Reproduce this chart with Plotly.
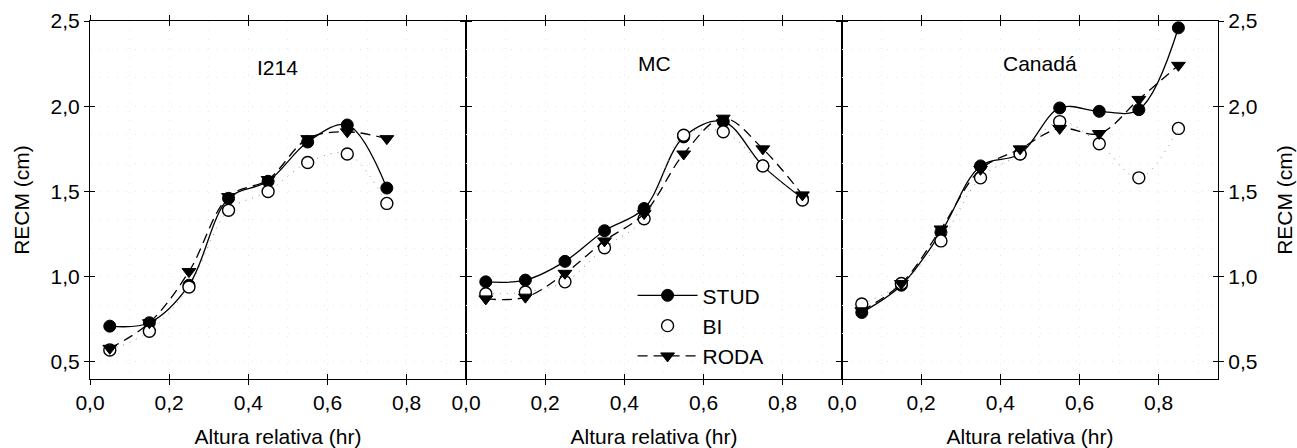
import plotly.graph_objects as go

# ---------------- data ----------------
x_i214 = [0.05, 0.15, 0.25, 0.35, 0.45, 0.55, 0.65, 0.75]
stud_i214 = [0.71, 0.73, 0.95, 1.46, 1.56, 1.79, 1.89, 1.52]
bi_i214 = [0.57, 0.68, 0.94, 1.39, 1.50, 1.67, 1.72, 1.43]
roda_i214 = [0.58, 0.73, 1.03, 1.47, 1.57, 1.81, 1.85, 1.81]

x_mc = [0.05, 0.15, 0.25, 0.35, 0.45, 0.55, 0.65, 0.75, 0.85]
stud_mc = [0.97, 0.98, 1.09, 1.27, 1.40, 1.82, 1.91, 1.65, 1.46]
bi_mc = [0.90, 0.91, 0.97, 1.17, 1.34, 1.83, 1.85, 1.65, 1.45]
roda_mc = [0.87, 0.88, 1.02, 1.21, 1.37, 1.72, 1.93, 1.75, 1.48]

x_can = [0.05, 0.15, 0.25, 0.35, 0.45, 0.55, 0.65, 0.75, 0.85]
stud_can = [0.79, 0.95, 1.26, 1.65, 1.72, 1.99, 1.97, 1.98, 2.46]
bi_can = [0.84, 0.96, 1.21, 1.58, 1.72, 1.91, 1.78, 1.58, 1.87]
roda_can = [0.80, 0.96, 1.28, 1.63, 1.75, 1.87, 1.84, 2.04, 2.24]

panel_names = ["I214", "MC", "Canadá"]
series_names = ["STUD", "BI", "RODA"]
x_ticks = [0.0, 0.2, 0.4, 0.6, 0.8]
y_ticks = [0.5, 1.0, 1.5, 2.0, 2.5]

panels = [
    (x_i214, stud_i214, bi_i214, roda_i214),
    (x_mc, stud_mc, bi_mc, roda_mc),
    (x_can, stud_can, bi_can, roda_can),
]

FONT = "Liberation Sans, Arial, sans-serif"
FS = 21
XR = [0, 0.95]
YR = [0.4, 2.5]
GRID = "#e6e6e6"

fig = go.Figure()

for i, (xs, st, bi, ro) in enumerate(panels):
    n = i + 1
    xa = "x" if n == 1 else f"x{n}"
    ya = "y" if n == 1 else f"y{n}"
    show = (i == 0)
    fig.add_trace(go.Scatter(
        x=xs, y=st, name=series_names[0], legendgroup="STUD", showlegend=show,
        xaxis=xa, yaxis=ya, mode="lines+markers",
        line=dict(color="black", width=1.3, shape="spline", smoothing=1.0),
        marker=dict(symbol="circle", size=12, color="black",
                    line=dict(color="black", width=1)),
    ))
    # BI: faint dotted curve (no legend entry) + open-circle markers
    fig.add_trace(go.Scatter(
        x=xs, y=bi, name=series_names[1], legendgroup="BI", showlegend=False,
        xaxis=xa, yaxis=ya, mode="lines",
        line=dict(color="#8a8a8a", width=1, shape="spline", smoothing=1.0,
                  dash="1px,6px"),
        hoverinfo="skip",
    ))
    fig.add_trace(go.Scatter(
        x=xs, y=bi, name=series_names[1], legendgroup="BI", showlegend=show,
        xaxis=xa, yaxis=ya, mode="markers",
        marker=dict(symbol="circle", size=12, color="white",
                    line=dict(color="black", width=1.4)),
    ))
    fig.add_trace(go.Scatter(
        x=xs, y=ro, name=series_names[2], legendgroup="RODA", showlegend=show,
        xaxis=xa, yaxis=ya, mode="lines+markers",
        line=dict(color="black", width=1.3, shape="spline", smoothing=1.0,
                  dash="10px,6px"),
        marker=dict(symbol="triangle-down", size=12, color="black",
                    line=dict(color="black", width=1)),
    ))
    # empty trace to host the inside-tick overlay axes
    fig.add_trace(go.Scatter(x=[], y=[], xaxis=f"x{n+3}", yaxis=f"y{n+3}",
                             showlegend=False, hoverinfo="skip"))

domains = [[0, 1/3], [1/3, 2/3], [2/3, 1]]

base_x = dict(
    range=XR, tickvals=x_ticks, tickformat=".1f", automargin=False,
    showline=True, linecolor="black", linewidth=1.1, mirror="ticks",
    ticks="outside", ticklen=5, tickwidth=1.3, tickcolor="black",
    showgrid=True, gridcolor=GRID, griddash="1px,8px", gridwidth=1,
    minor=dict(dtick=0.1, showgrid=True, gridcolor=GRID,
               griddash="1px,8px", gridwidth=1),
    zeroline=False,
    tickfont=dict(family=FONT, size=FS, color="black"),
    title=dict(text="Altura relativa (hr)", standoff=22,
               font=dict(family=FONT, size=FS, color="black")),
)
base_y = dict(
    range=YR, tickvals=y_ticks, tickformat=".1f", automargin=False,
    showline=True, linecolor="black", linewidth=1.1, mirror="ticks",
    ticks="outside", ticklen=5, tickwidth=1.3, tickcolor="black",
    showgrid=True, gridcolor=GRID, griddash="1px,8px", gridwidth=1,
    minor=dict(tick0=0.5, dtick=0.5/3, showgrid=True, gridcolor=GRID,
               griddash="1px,8px", gridwidth=1),
    zeroline=False,
    tickfont=dict(family=FONT, size=FS, color="black"),
)

layout = {}
for i in range(3):
    n = i + 1
    xk = "xaxis" if n == 1 else f"xaxis{n}"
    yk = "yaxis" if n == 1 else f"yaxis{n}"
    ya = "y" if n == 1 else f"y{n}"
    xa = "x" if n == 1 else f"x{n}"
    layout[xk] = dict(base_x, domain=domains[i], anchor=ya)
    ydict = dict(base_y, anchor=xa, domain=[0, 1])
    if n == 1:
        ydict["title"] = dict(text="RECM (cm)", standoff=15,
                              font=dict(family=FONT, size=FS, color="black"))
    elif n == 2:
        ydict["showticklabels"] = False
    else:
        ydict["side"] = "right"
        ydict["title"] = dict(text="RECM (cm)", standoff=20,
                              font=dict(family=FONT, size=FS, color="black"))
    layout[yk] = ydict
    # overlay axes for the inside half of crossing ticks
    layout[f"xaxis{n+3}"] = dict(
        overlaying=xa, anchor=f"y{n+3}", range=XR, tickvals=x_ticks,
        showticklabels=False, showgrid=False, zeroline=False,
        showline=False, mirror="ticks", ticks="inside", ticklen=5,
        tickwidth=1.3, tickcolor="black")
    layout[f"yaxis{n+3}"] = dict(
        overlaying=ya, anchor=f"x{n+3}", range=YR, tickvals=y_ticks,
        showticklabels=False, showgrid=False, zeroline=False,
        showline=False, mirror="ticks", ticks="inside", ticklen=5,
        tickwidth=1.3, tickcolor="black",
        side="right" if n == 3 else "left")

fig.update_layout(**layout)

annotations = []
title_pos = [(0.474, 2.23), (0.477, 2.25), (0.50, 2.25)]
for i, name in enumerate(panel_names):
    n = i + 1
    annotations.append(dict(
        text=name, x=title_pos[i][0], y=title_pos[i][1],
        xref="x" if n == 1 else f"x{n}", yref="y" if n == 1 else f"y{n}",
        showarrow=False, font=dict(family=FONT, size=FS, color="black")))

fig.update_layout(
    width=1297, height=448,
    margin=dict(l=90, r=79, t=21, b=69),
    paper_bgcolor="white", plot_bgcolor="white",
    separators=", ",
    font=dict(family=FONT, size=FS, color="black"),
    annotations=annotations,
    legend=dict(x=0.481, y=0.29, xanchor="left", yanchor="top",
                bgcolor="rgba(0,0,0,0)", borderwidth=0,
                font=dict(family=FONT, size=FS, color="black"),
                tracegroupgap=0, itemwidth=60),
)

fig.write_html("out.html",
               config={"displayModeBar": False},
               post_script="document.body.style.margin='0';"
                           "document.body.style.overflow='hidden';")
